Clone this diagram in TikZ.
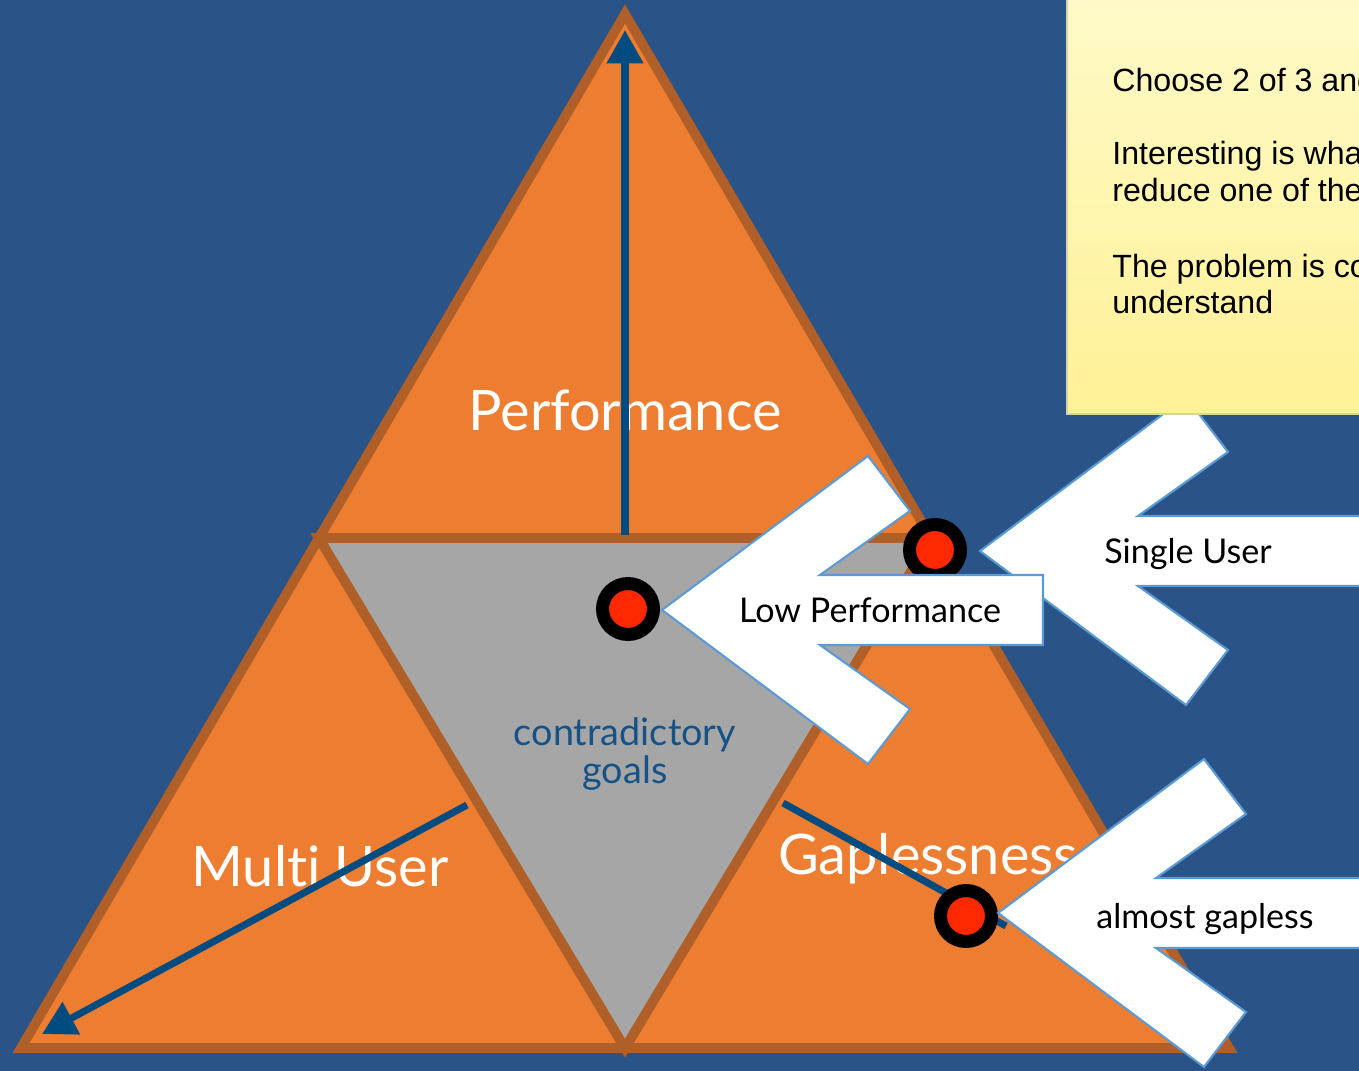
\documentclass[tikz,border=0pt]{standalone}
\usepackage{fontspec}
\setmainfont{Lato}[Ligatures=NoCommon]
\newfontfamily\notefont{Liberation Sans}
\usetikzlibrary{arrows.meta,positioning}

\definecolor{slide}{RGB}{42,83,136}
\definecolor{tri}{RGB}{237,125,49}
\definecolor{triedge}{RGB}{176,95,40}
\definecolor{core}{RGB}{166,166,166}
\definecolor{axisblue}{RGB}{0,76,128}
\definecolor{goalblue}{RGB}{20,82,135}
\definecolor{chevedge}{RGB}{91,155,213}
\definecolor{dotred}{RGB}{255,40,0}
\definecolor{notetop}{RGB}{255,250,200}
\definecolor{notebot}{RGB}{255,241,150}
\definecolor{noteedge}{RGB}{215,210,170}

\tikzset{
  part/.style={fill=tri, draw=triedge, line width=5.5pt},
  corepart/.style={fill=core, draw=triedge, line width=5.5pt},
  pull/.style={draw=axisblue, line width=4pt, -{Triangle[length=19pt,width=20pt]}},
  spot/.style={circle, fill=dotred, draw=black, line width=7.4pt, minimum size=1.02cm, inner sep=0pt},
  chev/.style={fill=white, draw=chevedge, line width=1.2pt},
  big/.style={text=white, font=\fontsize{31.8}{36}\selectfont, anchor=base},
  goal/.style={text=goalblue, font=\fontsize{21.5}{24}\selectfont, anchor=base},
  tag/.style={text=black, font=\fontsize{19.4}{22}\selectfont, anchor=base},
  notetext/.style={font=\notefont\fontsize{18.3}{21}\selectfont, anchor=base west, inner sep=0pt}
}

% white block arrow pointing left: tip x, tip y, length of the bar
\newcommand{\chevron}[3]{%
  \draw[chev] (#1,#2) -- ++(206,-154) -- ++(42,55) -- ++(-90,64) -- ++(#3,0)
    -- ++(0,70) -- ++(-#3,0) -- ++(90,64) -- ++(-42,55) -- cycle;}

\begin{document}
\begin{tikzpicture}[x=0.02cm, y=-0.02cm]
	\path[use as bounding box, clip] (0,0) rectangle (1359,1071);
	\fill[slide] (0,0) rectangle (1359,1071);

	% corners of the triangle
	\coordinate (top) at (625,14);
	\coordinate (left) at (21,1048);
	\coordinate (right) at (1229,1048);
	\coordinate (ml) at (319,538);
	\coordinate (mr) at (931,538);
	\coordinate (mb) at (625,1048);

	\draw[part] (top) -- (ml) -- (mr) -- cycle;
	\draw[part] (ml) -- (left) -- (mb) -- cycle;
	\draw[part] (mr) -- (mb) -- (right) -- cycle;
	\draw[corepart] (ml) -- (mr) -- (mb) -- cycle;

	\node[big] (perf) at (625,430) {Performance};
	\node[big] (multi) at (320,886) {Multi User};
	\node[big] (gap) at (928,874) {Gaplessness};
	\node[goal] (contra) at (625,745) {contradictory};
	\node[goal] (goals) at (625,783) {goals};

	% directions
	\coordinate (upfoot) at (625,535);
	\coordinate (uphead) at (625,30);
	\coordinate (mufoot) at (467,805);
	\coordinate (muhead) at (42,1034);
	\coordinate (gapfoot) at (783,803);
	\coordinate (gapend) at (1006,926);
	\draw[pull] (upfoot) -- (uphead);
	\draw[pull] (mufoot) -- (muhead);
	\draw[pull, -] (gapfoot) -- (gapend);

	\node[spot] (low) at (628,609) {};
	\node[spot] (single) at (935,550) {};
	\node[spot] (almost) at (966,916) {};

	\chevron{980}{551}{400}
	\chevron{998}{913}{400}
	\chevron{662}{610}{223}
	\node[tag] (singletag) at (1188,563) {Single User};
	\node[tag] (almosttag) at (1205,928) {almost gapless};
	\node[tag] (lowtag) at (870,622) {Low Performance};

	% sticky note
	\shade[top color=notetop, bottom color=notebot, draw=noteedge, line width=1.5pt]
		(1067,-5) rectangle (1370,414);
	\foreach \y/\txt [count=\i] in {92/Choose 2 of 3 and, 165/Interesting is wha,
		202/reduce one of the, 277/The problem is co, 314/understand}
		\node[notetext] (note\i) at (1112,\y) {\txt};
\end{tikzpicture}
\end{document}
